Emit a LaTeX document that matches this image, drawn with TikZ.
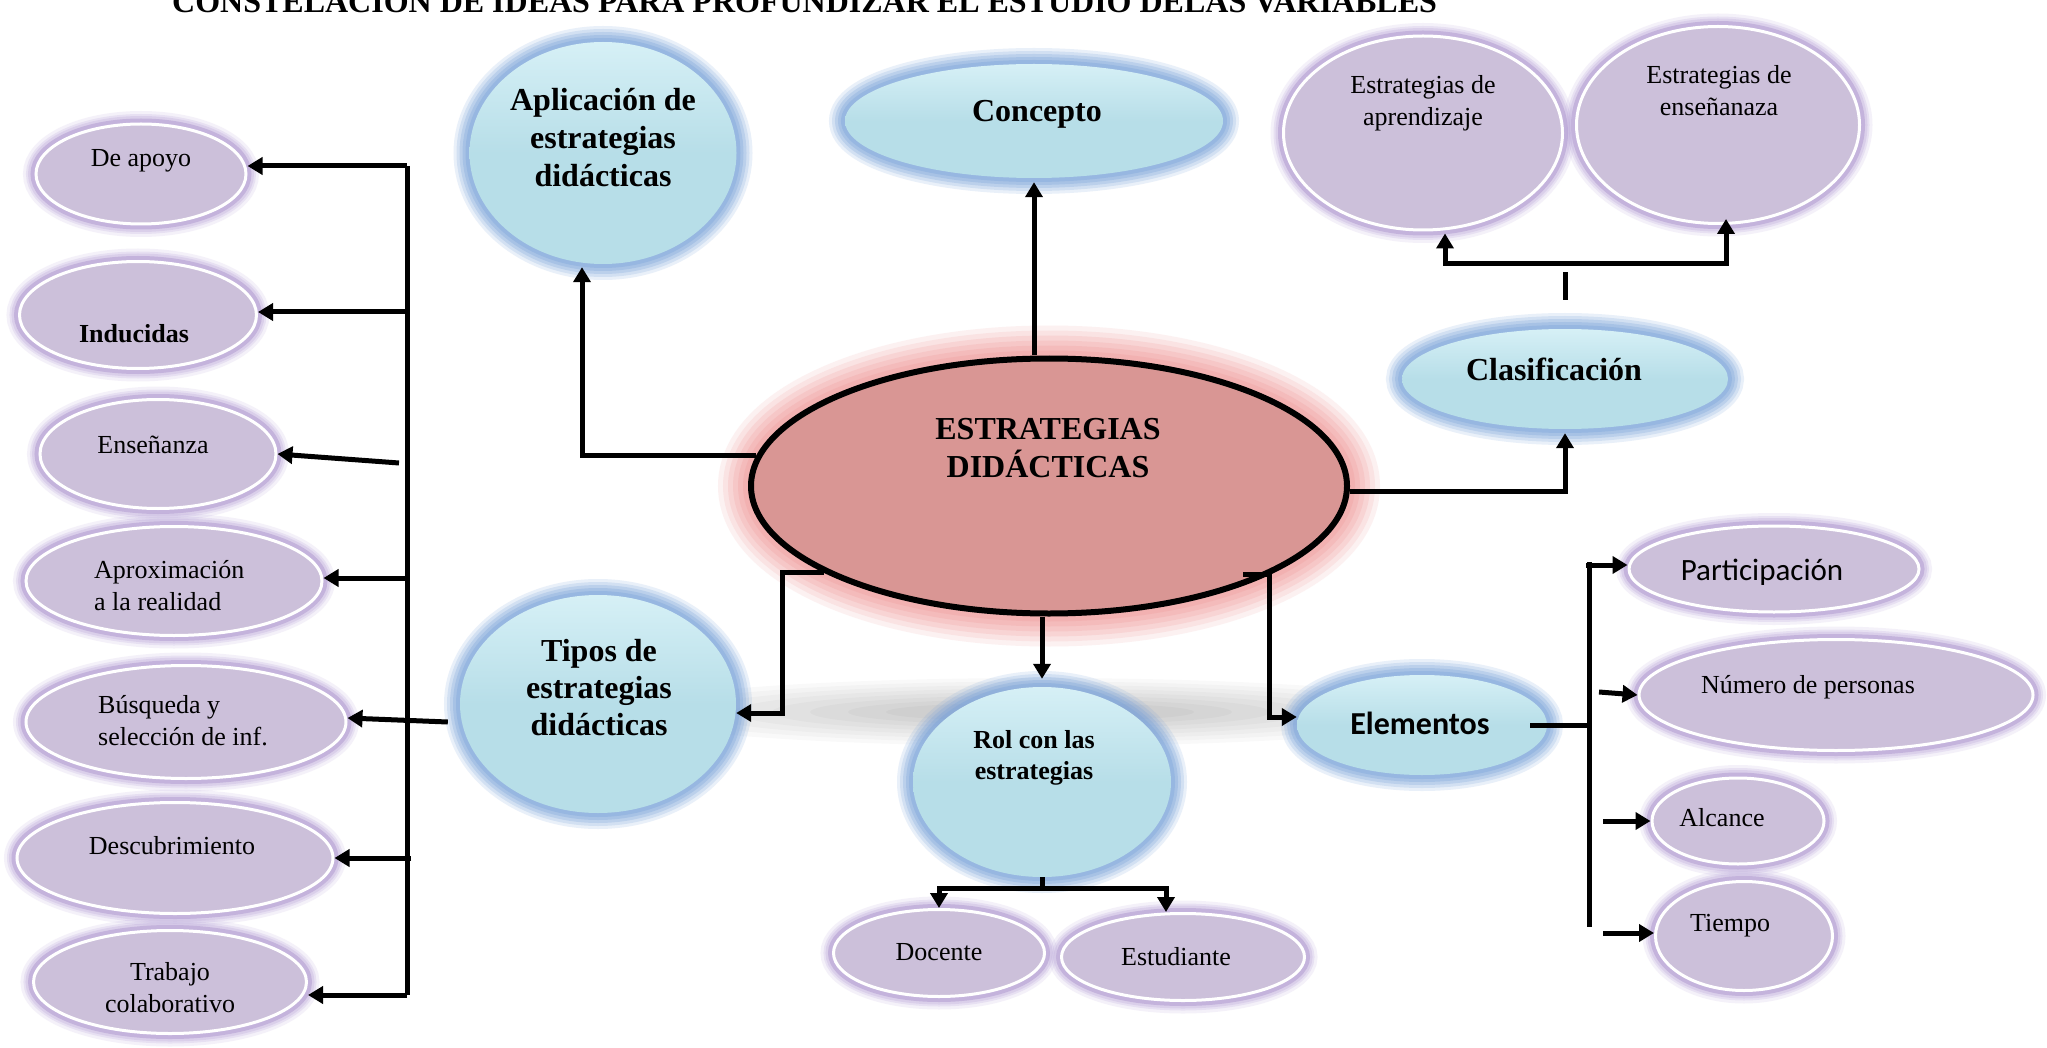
\documentclass[tikz,border=0pt]{standalone}
\usepackage{fontspec}
\setmainfont{Liberation Serif}
\newfontfamily\calibrifont{Carlito}
\usetikzlibrary{shapes.geometric,arrows.meta,calc}
\definecolor{bluefill}{HTML}{B7DEE8}
\definecolor{bluetop}{HTML}{D6F0F6}
\definecolor{blueglow}{HTML}{7AA3DA}
\definecolor{purfill}{HTML}{CCC0DA}
\definecolor{purring}{HTML}{C4B3DC}
\definecolor{purglow}{HTML}{B49FD6}
\definecolor{redfill}{HTML}{D99694}
\definecolor{redglow}{HTML}{F09C9C}
\begin{document}
\begin{tikzpicture}[x=1pt,y=-1pt,
 bnode/.style={ellipse, inner sep=0pt, top color=bluetop, bottom color=bluefill, middle color=bluefill,
   preaction={draw=blueglow, line width=32pt, draw opacity=0.16},
   preaction={draw=blueglow, line width=26pt, draw opacity=0.2},
   preaction={draw=blueglow, line width=20pt, draw opacity=0.25},
   preaction={draw=blueglow, line width=14pt, draw opacity=0.3},
   preaction={draw=blueglow, line width=8pt, draw opacity=0.35}},
 pnode/.style={ellipse, inner sep=0pt, fill=purfill, draw=white, line width=3pt,
   preaction={draw=purglow, line width=26pt, draw opacity=0.14},
   preaction={draw=purglow, line width=20pt, draw opacity=0.2},
   preaction={draw=purglow, line width=16pt, draw opacity=0.25},
   preaction={draw=purring, line width=11pt}},
 cnode/.style={ellipse, inner sep=0pt, fill=redfill, draw=black, line width=6pt,
   preaction={draw=redglow, line width=66pt, draw opacity=0.14},
   preaction={draw=redglow, line width=56pt, draw opacity=0.16},
   preaction={draw=redglow, line width=46pt, draw opacity=0.2},
   preaction={draw=redglow, line width=36pt, draw opacity=0.22},
   preaction={draw=redglow, line width=26pt, draw opacity=0.26},
   preaction={draw=redglow, line width=16pt, draw opacity=0.3}},
 ptxt/.style={font=\fontsize{26}{32}\selectfont, align=center, inner sep=0pt},
 btxt/.style={font=\bfseries\fontsize{32}{38}\selectfont, align=center, inner sep=0pt},
 arr/.style={line width=5pt, -{Triangle[length=15pt,width=17pt]}},
 ln/.style={line width=5pt}]
\useasboundingbox[fill=white] (0,0) rectangle (2047,1048);

% title (top cut off as in the source)
\node[anchor=base west, inner sep=0pt, font=\bfseries\fontsize{32}{38}\selectfont] (title) at (172,13)
  {CONSTELACIÓN DE IDEAS PARA PROFUNDIZAR EL ESTUDIO DELAS VARIABLES};

% soft shadow band
\foreach \k in {0,...,7}
  \fill[black, opacity=0.022] (1040,712) ellipse [x radius={420pt-38pt*\k}, y radius={34pt-3.5pt*\k}];

% blue nodes
\node[bnode, minimum width=267pt, minimum height=222pt] (apl) at (603,153) {};
\node[bnode, minimum width=378pt, minimum height=114pt] (con) at (1034,121) {};
\node[bnode, minimum width=326pt, minimum height=100pt] (cla) at (1565,379) {};
\node[bnode, minimum width=276pt, minimum height=218pt] (tip) at (598,704) {};
\node[bnode, minimum width=258pt, minimum height=190pt] (rol) at (1042,782) {};
\node[bnode, minimum width=250pt, minimum height=100pt] (elem) at (1422,725) {};

% purple nodes
\node[pnode, minimum width=210pt, minimum height=100pt] (apoyo) at (141,174) {};
\node[pnode, minimum width=237pt, minimum height=107pt] (induc) at (138,315) {};
\node[pnode, minimum width=236pt, minimum height=109pt] (ensen) at (158,454) {};
\node[pnode, minimum width=296pt, minimum height=109pt] (aprox) at (174,581) {};
\node[pnode, minimum width=320pt, minimum height=113pt] (busq) at (186,722) {};
\node[pnode, minimum width=316pt, minimum height=111pt] (desc) at (175,858) {};
\node[pnode, minimum width=273pt, minimum height=103pt] (trab) at (170,982) {};
\node[pnode, minimum width=211pt, minimum height=87pt] (doc) at (939,953) {};
\node[pnode, minimum width=243pt, minimum height=87pt] (est) at (1183,957) {};
\node[pnode, minimum width=279pt, minimum height=194pt] (eapr) at (1423,133) {};
\node[pnode, minimum width=283pt, minimum height=197pt] (eens) at (1718,125) {};
\node[pnode, minimum width=290pt, minimum height=86pt] (part) at (1774,569) {};
\node[pnode, minimum width=394pt, minimum height=111pt] (num) at (1836,695) {};
\node[pnode, minimum width=172pt, minimum height=86pt] (alc) at (1738,821) {};
\node[pnode, minimum width=177pt, minimum height=109pt] (tiem) at (1744,936) {};

% central node
\node[cnode, minimum width=596pt, minimum height=255pt] (cen) at (1049,486) {};

% texts
\node[btxt] (tcen) at (1048,448) {ESTRATEGIAS\\DIDÁCTICAS};
\node[btxt] (tapl) at (603,138) {Aplicación de\\estrategias\\didácticas};
\node[btxt] (tcon) at (1037,114) {Concepto};
\node[btxt] (tcla) at (1554,369) {Clasificación};
\node[btxt, font=\bfseries\fontsize{32}{37}\selectfont] (ttip) at (599,688) {Tipos de\\estrategias\\didácticas};
\node[btxt, font=\bfseries\fontsize{26}{31}\selectfont] (trol) at (1034,758) {Rol con las\\estrategias};
\node[btxt, font=\calibrifont\bfseries\fontsize{32}{38}\selectfont] (telem) at (1420,723) {Elementos};

\node[ptxt] (tapoyo) at (141,161) {De apoyo};
\node[ptxt, font=\bfseries\fontsize{26}{32}\selectfont] (tinduc) at (134,334) {Inducidas};
\node[ptxt] (tensen) at (153,445) {Enseñanza};
\node[ptxt, align=left, anchor=west] (taprox) at (94,586) {Aproximación\\a la realidad};
\node[ptxt, align=left, anchor=west] (tbusq) at (98,721) {Búsqueda y\\selección de inf.};
\node[ptxt] (tdesc) at (172,846) {Descubrimiento};
\node[ptxt] (ttrab) at (170,988) {Trabajo\\colaborativo};
\node[ptxt] (tdoc) at (939,952) {Docente};
\node[ptxt] (test) at (1176,957) {Estudiante};
\node[ptxt] (teapr) at (1423,103) {Estrategias de\\aprendizaje};
\node[ptxt] (teens) at (1719,91) {Estrategias de\\enseñanaza};
\node[ptxt, font=\calibrifont\fontsize{31}{36}\selectfont] (tpart) at (1762,572) {Participación};
\node[ptxt] (tnum) at (1808,687) {Número de personas};
\node[ptxt] (talc) at (1722,818) {Alcance};
\node[ptxt] (ttiem) at (1730,926) {Tiempo};

% connectors from the central node
\draw[arr, shorten >=3pt] (cen.174) -| ([xshift=-21pt]apl.south);
\draw[arr, shorten >=4pt] (cen.north -| con.south) -- (con.south);
\draw[arr, shorten >=4pt] (cen.-1.5) -| (cla.south);
\draw[arr] (cen.201.4) -- ++(-41,0) |- ([yshift=-9pt]tip.east);
\draw[arr, shorten >=8pt] (cen.south -| rol.north) -- (rol.north);
\draw[arr] (cen.-22.3) ++(-26,0) -- ++(26,0) |- ([yshift=8pt]elem.west);

% clasificacion bracket
\draw[ln] (cla.north) ++(0,-29) coordinate (cs1) -- ++(0,-28) coordinate (cs2);
\coordinate (cb) at (1565,264);
\draw[arr, shorten >=2pt] (cb) -| ([xshift=22pt]eapr.south);
\draw[arr, shorten >=-6pt] (cb) -| ([xshift=8pt]eens.south);

% rol bracket
\draw[arr] (rol.south) -- ++(0,11) -| (doc.north);
\draw[arr] (rol.south) -- ++(0,11) -| ([xshift=-17pt]est.north);

% left column
\coordinate (L1) at (407,166);
\coordinate (L2) at (407,995);
\draw[ln] (L1) -- (L2);
\draw[arr] (L1) -- (L1 -| apoyo.east);
\draw[arr] ($(L1 |- induc.east)+(0,-3)$) -- ($(induc.east)+(0,-3)$);
\draw[arr] ($(L1 |- ensen.east)+(-8,9)$) -- (ensen.east);
\draw[arr] ($(L1 |- aprox.east)+(0,-3)$) -- ($(aprox.east)+(0,-3)$);
\draw[arr] ([xshift=-12pt]tip.west |- busq.east) -- ($(busq.east)+(0,-4)$);
\draw[arr] ($(L1 |- desc.east)+(4,0)$) -- (desc.east);
\draw[arr] (L2) -- (L2 -| trab.east);

% elementos bracket
\coordinate (R1) at (1589,562);
\coordinate (R2) at (1589,927);
\draw[ln] (R1) -- (R2);
\draw[ln] ([xshift=-17pt]elem.east) -- (elem.east -| R1);
\draw[arr] ($(R1 |- part.west)+(-3,-4)$) -- ($(part.west)+(0,-4)$);
\draw[arr] ($(R1 |- num.west)+(10,-3)$) -- (num.west);
\draw[arr] ($(R1 |- alc.west)+(14,0)$) -- (alc.west);
\draw[arr] ($(R1 |- tiem.west)+(14,-3)$) -- ($(tiem.west)+(0,-3)$);
\end{tikzpicture}
\end{document}
